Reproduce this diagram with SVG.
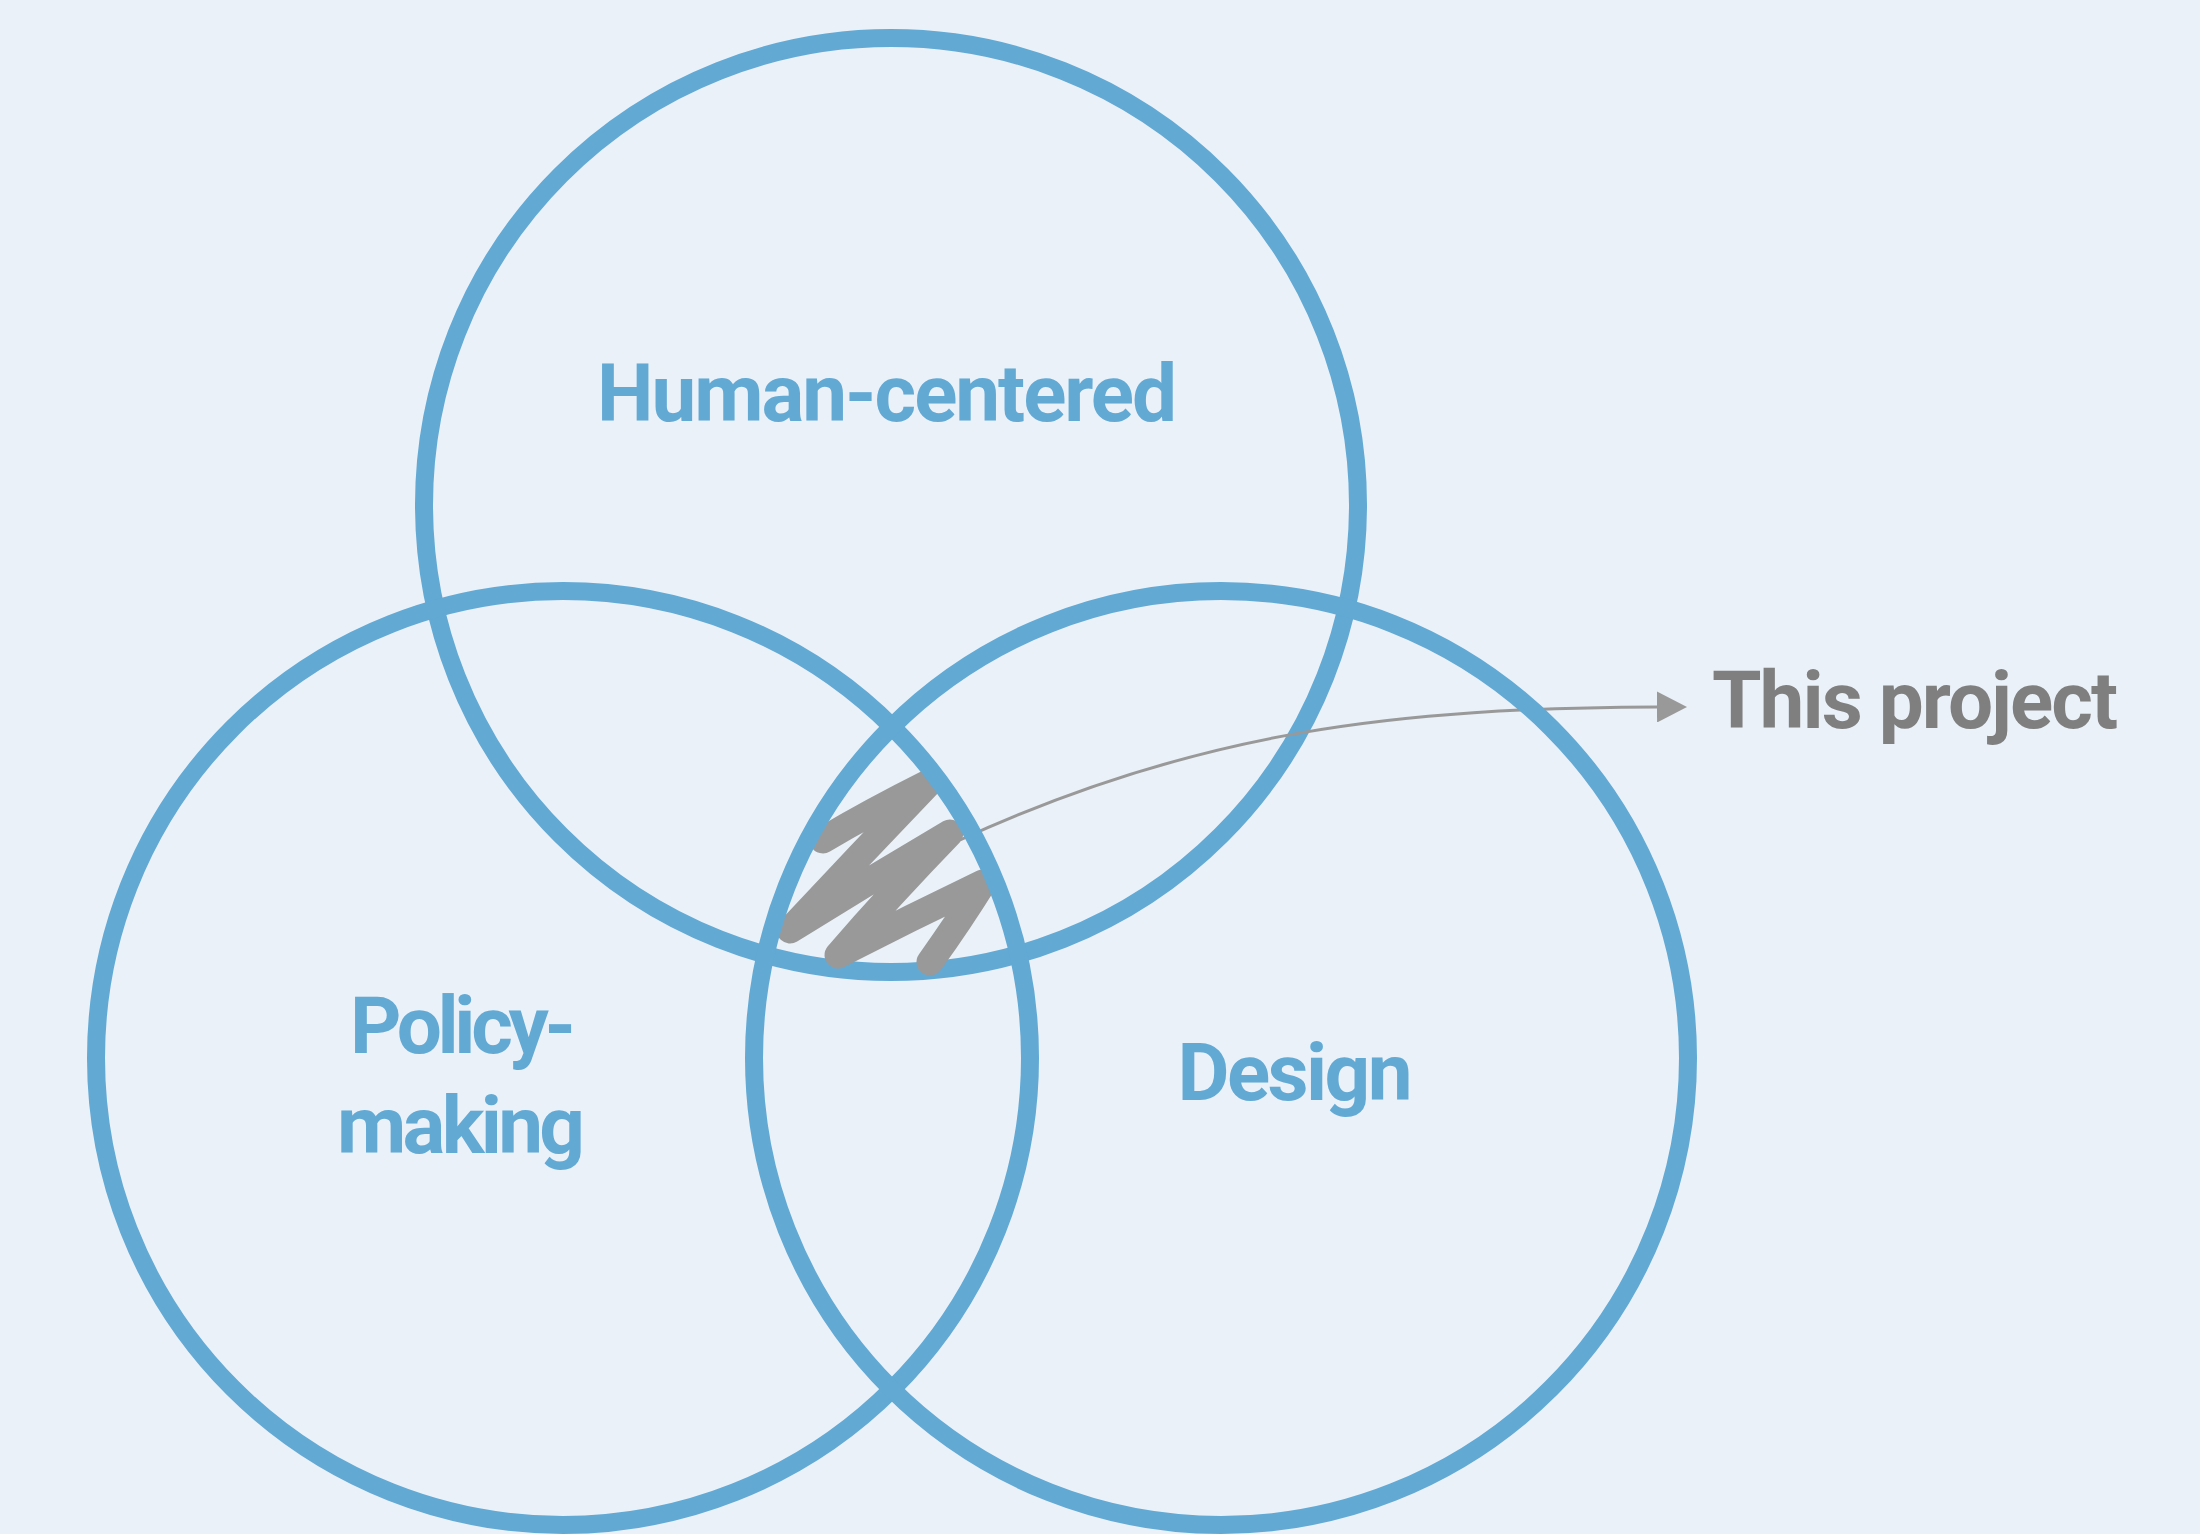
<svg xmlns="http://www.w3.org/2000/svg" width="2200" height="1534" viewBox="0 0 2200 1534">
  <style>
    .ring { fill: none; stroke: #62a9d4; stroke-width: 18; }
    .lbl { font-family: Roboto, "Liberation Sans", Arial, sans-serif; font-weight: 700; font-size: 80px; fill: #62a9d4; }
    .note { font-family: Roboto, "Liberation Sans", Arial, sans-serif; font-weight: 700; font-size: 80px; fill: #7f7f7f; }
    .conn { fill: none; stroke: #999999; stroke-width: 3; }
    .scribble { fill: none; stroke: #999999; stroke-width: 27; stroke-linecap: round; stroke-linejoin: round; }
  </style>
  <defs>
    <marker id="arrow" markerWidth="30" markerHeight="31" refX="0" refY="15.5" orient="auto" markerUnits="userSpaceOnUse">
      <path d="M0,0 L30,15.5 L0,31 Z" fill="#999999"/>
    </marker>
  </defs>
  <rect width="2200" height="1534" fill="#eaf1f9"/>

  <g id="human-centered">
    <circle class="ring" cx="891" cy="505" r="467"/>
    <text class="lbl" x="887" y="421" text-anchor="middle" textLength="580" lengthAdjust="spacing">Human-centered</text>
  </g>

  <g id="connectors">
    <path class="conn" d="M 960 840 C 1200 730, 1400 708, 1657 707" marker-end="url(#arrow)"/>
    <path class="scribble" d="M 823 840 Q 870 812 930 782 Q 860 855 790 930 Q 870 880 950 833 Q 890 895 838 955 Q 910 918 983 883 Q 960 920 930 962"/>
  </g>

  <g id="policy-making">
    <circle class="ring" cx="563" cy="1058" r="467"/>
    <text class="lbl" x="463" y="1053" text-anchor="middle" textLength="226" lengthAdjust="spacing">Policy-</text>
    <text class="lbl" x="461" y="1153" text-anchor="middle" textLength="248" lengthAdjust="spacing">making</text>
  </g>

  <g id="design">
    <circle class="ring" cx="1221" cy="1058" r="467"/>
    <text class="lbl" x="1295" y="1100" text-anchor="middle" textLength="235" lengthAdjust="spacing">Design</text>
  </g>

  <g id="this-project">
    <text class="note" x="1712" y="728" textLength="406" lengthAdjust="spacing">This project</text>
  </g>
</svg>
